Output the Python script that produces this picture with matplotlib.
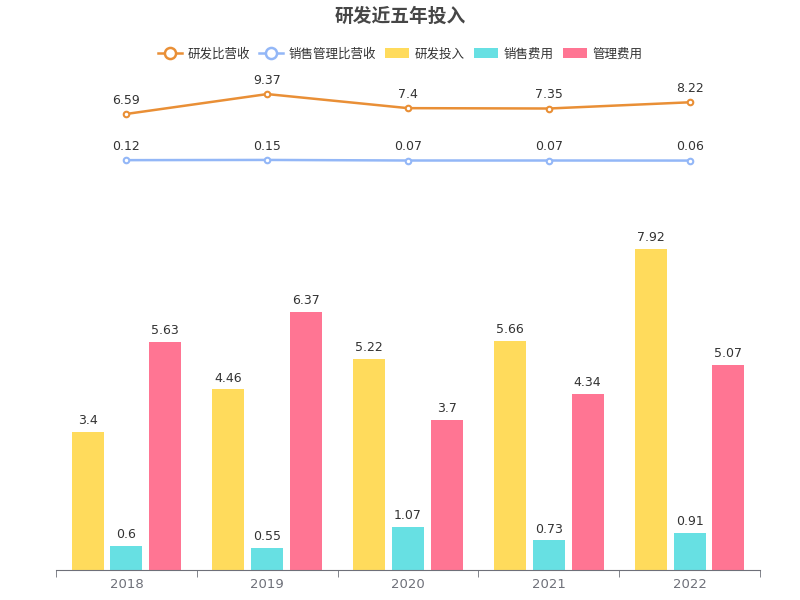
import matplotlib
matplotlib.use("Agg")
import matplotlib.pyplot as plt
from matplotlib.lines import Line2D
from matplotlib.patches import FancyBboxPatch, Patch
import numpy as np

plt.rcParams['font.family'] = ['DejaVu Sans', 'Noto Sans CJK SC']

years = ['2018', '2019', '2020', '2021', '2022']
rd_ratio = [6.59, 9.37, 7.4, 7.35, 8.22]
sm_ratio = [0.12, 0.15, 0.07, 0.07, 0.06]
rd_invest = [3.4, 4.46, 5.22, 5.66, 7.92]
sales_exp = [0.6, 0.55, 1.07, 0.73, 0.91]
admin_exp = [5.63, 6.37, 3.7, 4.34, 5.07]

c_orange = '#E98F36'
c_blue = '#93B7F7'
c_yellow = '#FFDB5C'
c_cyan = '#67E0E3'
c_pink = '#FF7593'
txt = '#333333'

fig = plt.figure(figsize=(8, 6), dpi=100)
W, H = 800, 600
x0, x1 = 56, 760

# bar axes
axb = fig.add_axes([x0 / W, 30 / H, (x1 - x0) / W, 405 / H])
x = np.arange(len(years))
bw = 0.227
off = 0.275
series = [(rd_invest, c_yellow, -off), (sales_exp, c_cyan, 0), (admin_exp, c_pink, off)]
for vals, col, o in series:
    axb.bar(x + o, vals, width=bw, color=col, zorder=2)
    for xi, v in zip(x + o, vals):
        axb.text(xi, v + 0.12, f'{v:g}', ha='center', va='bottom', fontsize=9, color=txt)
axb.set_xlim(-0.5, len(years) - 0.5)
axb.set_ylim(0, 10)
for s in ['top', 'right', 'left']:
    axb.spines[s].set_visible(False)
axb.spines['bottom'].set_color('#6E7079')
axb.set_yticks([])
axb.set_xticks(x)
axb.set_xticklabels(years, color='#6E7079', fontsize=9.5)
axb.tick_params(axis='x', length=0, pad=6)
axb.set_xticks(np.arange(-0.5, len(years)), minor=True)
axb.tick_params(axis='x', which='minor', length=5, color='#6E7079')

# line axes
axl = fig.add_axes([x0 / W, (H - 161) / H, (x1 - x0) / W, 85.7 / H])
axl.set_xlim(-0.5, len(years) - 0.5)
axl.set_ylim(0, 12)
axl.axis('off')
for vals, col in [(rd_ratio, c_orange), (sm_ratio, c_blue)]:
    axl.plot(x, vals, color=col, lw=1.8, marker='o', ms=4, mfc='white', mec=col, mew=1.5, clip_on=False)
    for xi, v in zip(x, vals):
        axl.text(xi, v + 1.0, f'{v:g}', ha='center', va='bottom', fontsize=9, color=txt)

fig.text(0.5, 1 - 16 / H, '研发近五年投入', ha='center', va='center', fontsize=13.5, fontweight='bold', color='#464646')

handles = [
    Line2D([0], [0], color=c_orange, lw=1.8, marker='o', ms=8, mfc='white', mec=c_orange, mew=1.8),
    Line2D([0], [0], color=c_blue, lw=1.8, marker='o', ms=8, mfc='white', mec=c_blue, mew=1.8),
    Patch(facecolor=c_yellow, edgecolor='none'),
    Patch(facecolor=c_cyan, edgecolor='none'),
    Patch(facecolor=c_pink, edgecolor='none'),
]
labels = ['研发比营收', '销售管理比营收', '研发投入', '销售费用', '管理费用']
fig.legend(handles, labels, loc='center', bbox_to_anchor=(0.5, 1 - 54 / H), ncol=5, frameon=False,
           fontsize=9, handlelength=1.9, handleheight=0.9, handletextpad=0.45, columnspacing=0.75,
           labelcolor=txt)

fig.savefig('out.png', dpi=100)
